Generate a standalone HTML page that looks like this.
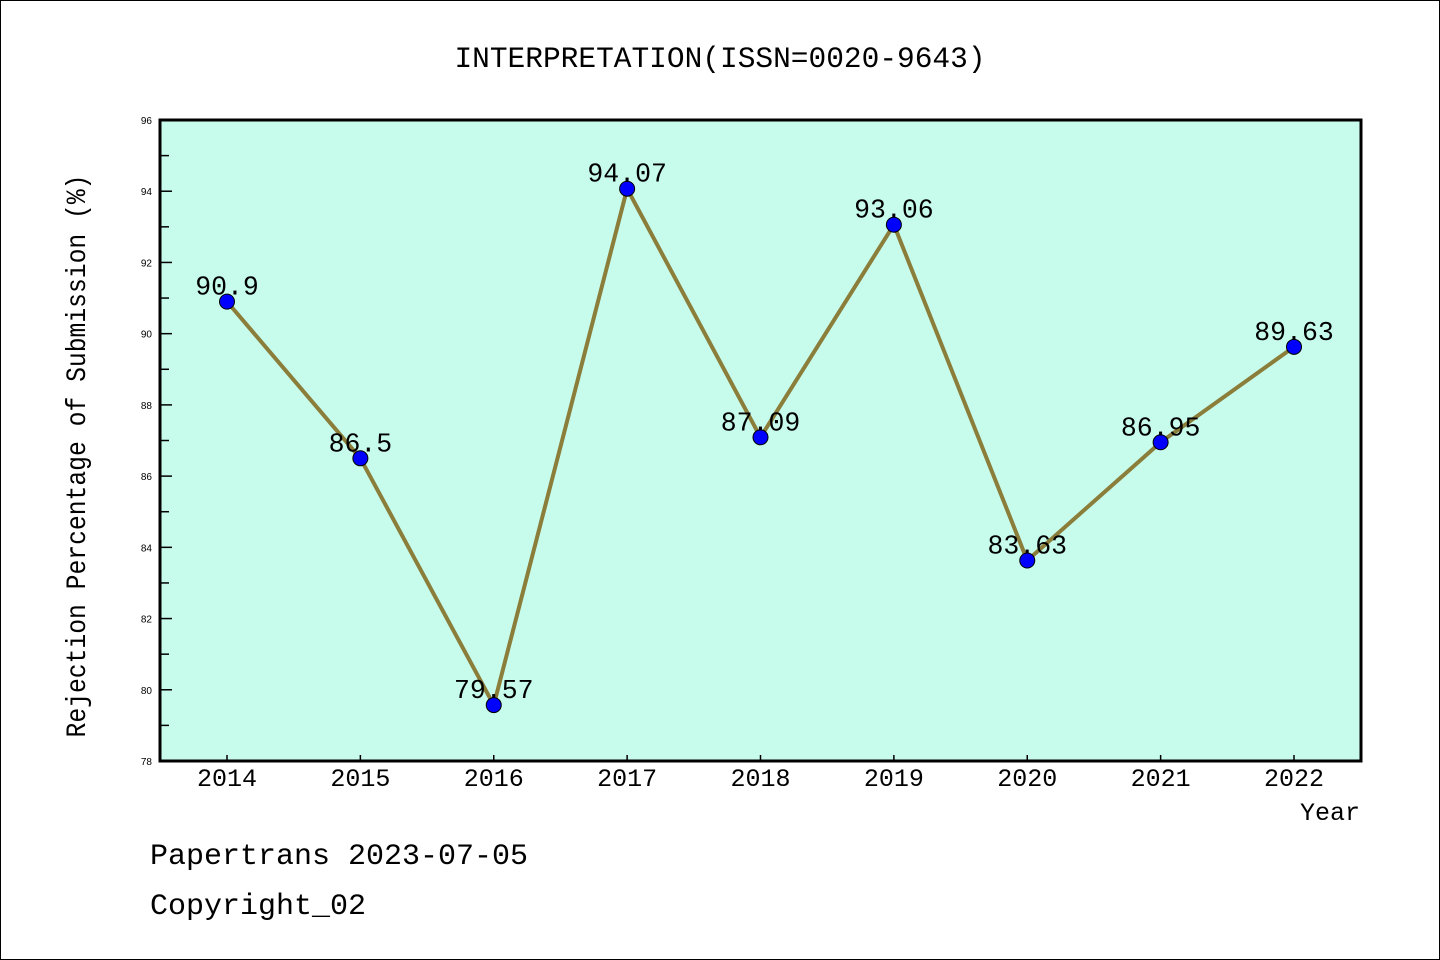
<!DOCTYPE html>
<html><head><meta charset="utf-8"><style>
html,body{margin:0;padding:0;background:#fff}
svg{display:block}
text{font-family:"Liberation Mono","Noto Sans CJK SC",monospace;fill:#000}
</style></head><body>
<svg width="1440" height="960" viewBox="0 0 1440 960">
<rect x="0.5" y="0.5" width="1439" height="959" fill="#fff" stroke="#000"/>
<text x="720" y="67" font-size="29.5" text-anchor="middle">INTERPRETATION(ISSN=0020-9643)</text>
<rect x="160" y="120" width="1201" height="641" fill="#c7fcec"/>
<g id="axes"></g>
<g id="series"></g>
<rect x="160" y="120" width="1201" height="641" fill="none" stroke="#000" stroke-width="3"/>
<text x="1360" y="820" font-size="25" text-anchor="end">Year</text>
<text transform="translate(85,456) rotate(-90)" font-size="27.5" text-anchor="middle" textLength="563" lengthAdjust="spacingAndGlyphs">Rejection Percentage of Submission (%)</text>
<text x="150" y="864" font-size="30">Papertrans 2023-07-05</text>
<text x="150" y="914" font-size="30">Copyright_02</text>
</svg>
<script>
const years = ["2014","2015","2016","2017","2018","2019","2020","2021","2022"];
const values = [90.9, 86.5, 79.57, 94.07, 87.09, 93.06, 83.63, 86.95, 89.63];
const valueLabels = ["90.9","86.5","79.57","94.07","87.09","93.06","83.63","86.95","89.63"];
const yTicks = [78,80,82,84,86,88,90,92,94,96];
const yMin = 78, yMax = 96;
const NS = "http://www.w3.org/2000/svg";
const px0 = 160, px1 = 1361, py0 = 120, py1 = 761;
function xScale(i){ return 227 + i * (1294 - 227) / (years.length - 1); }
function yScale(v){ return py1 - (v - yMin) / (yMax - yMin) * (py1 - py0); }
function mk(tag, attrs){ const e = document.createElementNS(NS, tag); for (const k in attrs) e.setAttribute(k, attrs[k]); return e; }
const axes = document.getElementById("axes");
const series = document.getElementById("series");
yTicks.forEach(t => {
  const y = yScale(t);
  const tk = mk("line", {x1: px0, x2: px0 + 12, y1: y, y2: y, stroke: "#000", "stroke-width": 1.5});
  
  
  axes.appendChild(tk);
  const lb = mk("text", {x: 152, y: y + 4, "font-size": 10, "text-anchor": "end", style: "font-family:'Liberation Sans',sans-serif"});
  
  
  lb.textContent = t;
  axes.appendChild(lb);
  if (t < yMax) {
    const ym = yScale(t + 1);
    const mn = mk("line", {x1: px0, x2: px0 + 9, y1: ym, y2: ym, stroke: "#000", "stroke-width": 1.5});
    
    
    axes.appendChild(mn);
  }
});
years.forEach((yr, i) => {
  const x = xScale(i);
  const tk = mk("line", {x1: x, x2: x, y1: py1, y2: py1 - 6, stroke: "#000", "stroke-width": 1.5});
  
  
  axes.appendChild(tk);
  const lb = mk("text", {x: x, y: 786, "font-size": 25, "text-anchor": "middle"});
  
  
  lb.textContent = yr;
  axes.appendChild(lb);
});
const pts = values.map((v, i) => xScale(i) + "," + yScale(v)).join(" ");
const line = mk("polyline", {points: pts, fill: "none", stroke: "#8b7d3a", "stroke-width": 4, "stroke-linejoin": "round"});


series.appendChild(line);
values.forEach((v, i) => {
  const c = mk("circle", {cx: xScale(i), cy: yScale(v), r: 7.5, fill: "#0000ff", stroke: "#000", "stroke-width": 1});
  
  
  series.appendChild(c);
});
values.forEach((v, i) => {
  const t = mk("text", {x: xScale(i), y: yScale(v) - 7, "font-size": 26.5, "text-anchor": "middle"});
  
  
  t.textContent = valueLabels[i];
  series.appendChild(t);
});
</script>
</body></html>
